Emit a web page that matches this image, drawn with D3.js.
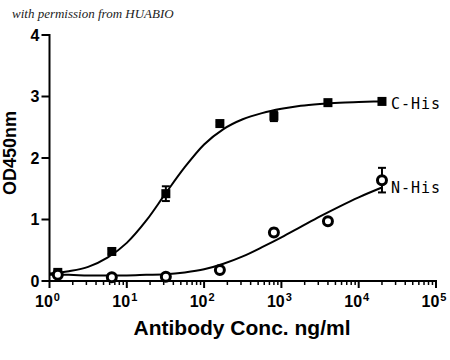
<!DOCTYPE html>
<html>
<head>
<meta charset="utf-8">
<script src="https://cdn.jsdelivr.net/npm/d3@7"></script>
<style>
  body { margin: 0; background: #fff; }
  svg { display: block; }
</style>
</head>
<body>
<div id="chart"></div>
<script>
// dilution series, ng/ml
const concs = [1.28, 6.4, 32, 160, 800, 4000, 20000];
const cHisOD = [0.14, 0.48, 1.42, 2.56, 2.68, 2.9, 2.92];
const cHisErr = [0.03, 0.04, 0.12, 0.03, 0.08, 0.03, 0.03];
const nHisOD = [0.1, 0.06, 0.07, 0.18, 0.79, 0.97, 1.64];
const nHisErr = [0.02, 0.02, 0.02, 0.02, 0.06, 0.02, 0.2];

// fitted curves (quarter decade steps)
const fitConc = [1, 1.78, 3.16, 5.62, 10, 17.8, 31.6, 56.2, 100, 178, 316, 562, 1000, 1778, 3162, 5623, 10000, 20000];
const cHisFit = [0.12, 0.16, 0.23, 0.38, 0.62, 0.98, 1.42, 1.85, 2.22, 2.47, 2.63, 2.73, 2.8, 2.85, 2.88, 2.9, 2.91, 2.92];
const nHisFit = [0.1, 0.1, 0.09, 0.09, 0.09, 0.1, 0.11, 0.14, 0.19, 0.28, 0.4, 0.55, 0.71, 0.88, 1.05, 1.21, 1.36, 1.52];

const xTicks = [1, 10, 100, 1000, 10000, 100000];
const yTicks = [0, 1, 2, 3, 4];

const width = 450;
const height = 360;
const margin = { top: 35, right: 14, bottom: 79, left: 49.5 };

const svg = d3
  .select('#chart')
  .append('svg')
  .attr('width', width)
  .attr('height', height);

const x = d3.scaleLog().domain([1, 1e5]).range([margin.left, width - margin.right]);
const y = d3.scaleLinear().domain([0, 4]).range([height - margin.bottom, margin.top]);

// watermark
svg
  .append('text')
  .attr('x', 12)
  .attr('y', 18)
  .style('font-family', '"Liberation Serif", serif')
  .style('font-style', 'italic')
  .style('font-size', '13px')
  .style('fill', '#222')
  .text('with permission from HUABIO');

// x axis
const xAxis = svg.append('g').attr('transform', `translate(0,${y(0)})`);
xAxis
  .append('line')
  .attr('x1', x(1) - 1)
  .attr('x2', x(1e5) + 1)
  .attr('stroke', '#000')
  .attr('stroke-width', 2);

const minor = [];
for (let d = 0; d < 5; d++) {
  for (let k = 2; k <= 9; k++) minor.push(k * Math.pow(10, d));
}
xAxis
  .selectAll('.minor')
  .data(minor)
  .enter()
  .append('line')
  .attr('x1', (d) => x(d))
  .attr('x2', (d) => x(d))
  .attr('y1', 0)
  .attr('y2', 4)
  .attr('stroke', '#000')
  .attr('stroke-width', 1.5);

xAxis
  .selectAll('.major')
  .data(xTicks)
  .enter()
  .append('line')
  .attr('x1', (d) => x(d))
  .attr('x2', (d) => x(d))
  .attr('y1', 0)
  .attr('y2', 7)
  .attr('stroke', '#000')
  .attr('stroke-width', 2);

const xLabels = xAxis
  .selectAll('.xlab')
  .data(xTicks)
  .enter()
  .append('text')
  .attr('x', (d) => x(d) - 2)
  .attr('y', 26)
  .attr('text-anchor', 'middle')
  .style('font-family', '"Liberation Sans", Arial, sans-serif')
  .style('font-weight', 'bold')
  .style('font-size', '16px');
xLabels.append('tspan').text('10');
xLabels
  .append('tspan')
  .attr('dy', -6)
  .attr('dx', 1)
  .style('font-size', '11px')
  .text((d) => Math.round(Math.log10(d)));

// y axis
const yAxis = svg.append('g').attr('transform', `translate(${x(1)},0)`);
yAxis
  .append('line')
  .attr('y1', y(4) - 1)
  .attr('y2', y(0) + 1)
  .attr('stroke', '#000')
  .attr('stroke-width', 2);
yAxis
  .selectAll('.ytick')
  .data(yTicks)
  .enter()
  .append('line')
  .attr('x1', -8)
  .attr('x2', 0)
  .attr('y1', (d) => y(d))
  .attr('y2', (d) => y(d))
  .attr('stroke', '#000')
  .attr('stroke-width', 2);
yAxis
  .selectAll('.ylab')
  .data(yTicks)
  .enter()
  .append('text')
  .attr('x', -10)
  .attr('y', (d) => y(d))
  .attr('dy', '0.36em')
  .attr('text-anchor', 'end')
  .style('font-family', '"Liberation Sans", Arial, sans-serif')
  .style('font-weight', 'bold')
  .style('font-size', '16px')
  .text((d) => d);

// axis titles
svg
  .append('text')
  .attr('x', 242)
  .attr('y', 335)
  .attr('text-anchor', 'middle')
  .style('font-family', '"Liberation Sans", Arial, sans-serif')
  .style('font-weight', 'bold')
  .style('font-size', '21px')
  .text('Antibody Conc. ng/ml');

svg
  .append('text')
  .attr('transform', 'translate(16,153) rotate(-90)')
  .attr('text-anchor', 'middle')
  .style('font-family', '"Liberation Sans", Arial, sans-serif')
  .style('font-weight', 'bold')
  .style('font-size', '18px')
  .text('OD450nm');

// fitted curves
const line = d3
  .line()
  .x((d) => x(d[0]))
  .y((d) => y(d[1]))
  .curve(d3.curveMonotoneX);

[cHisFit, nHisFit].forEach((fit) => {
  svg
    .append('path')
    .datum(fitConc.map((c, i) => [c, fit[i]]))
    .attr('d', line)
    .attr('fill', 'none')
    .attr('stroke', '#000')
    .attr('stroke-width', 2);
});

// error bars
const drawErr = (vals, errs) => {
  const g = svg.append('g');
  const pts = concs.map((c, i) => ({ c, v: vals[i], e: errs[i] }));
  g.selectAll('.bar')
    .data(pts)
    .enter()
    .append('line')
    .attr('x1', (d) => x(d.c))
    .attr('x2', (d) => x(d.c))
    .attr('y1', (d) => y(d.v - d.e))
    .attr('y2', (d) => y(d.v + d.e))
    .attr('stroke', '#000')
    .attr('stroke-width', 2);
  ['top', 'bottom'].forEach((side) => {
    g.selectAll('.cap-' + side)
      .data(pts)
      .enter()
      .append('line')
      .attr('x1', (d) => x(d.c) - 4)
      .attr('x2', (d) => x(d.c) + 4)
      .attr('y1', (d) => y(side === 'top' ? d.v + d.e : d.v - d.e))
      .attr('y2', (d) => y(side === 'top' ? d.v + d.e : d.v - d.e))
      .attr('stroke', '#000')
      .attr('stroke-width', 2);
  });
};
drawErr(cHisOD, cHisErr);
drawErr(nHisOD, nHisErr);

// markers
svg
  .selectAll('.sq')
  .data(concs.map((c, i) => [c, cHisOD[i]]))
  .enter()
  .append('rect')
  .attr('x', (d) => x(d[0]) - 4.5)
  .attr('y', (d) => y(d[1]) - 4.5)
  .attr('width', 9)
  .attr('height', 9)
  .attr('fill', '#000');

svg
  .selectAll('.circ')
  .data(concs.map((c, i) => [c, nHisOD[i]]))
  .enter()
  .append('circle')
  .attr('cx', (d) => x(d[0]))
  .attr('cy', (d) => y(d[1]))
  .attr('r', 4.5)
  .attr('fill', '#fff')
  .attr('stroke', '#000')
  .attr('stroke-width', 3);

// series labels
const seriesLabel = (txt, yPos) =>
  svg
    .append('text')
    .attr('x', 391)
    .attr('y', yPos)
    .attr('dy', '0.35em')
    .style('font-family', '"DejaVu Sans Mono", monospace')
    .style('font-size', '15px')
    .style('letter-spacing', '1px')
    .text(txt);
seriesLabel('C-His', 104);
seriesLabel('N-His', 188);
</script>
</body>
</html>
